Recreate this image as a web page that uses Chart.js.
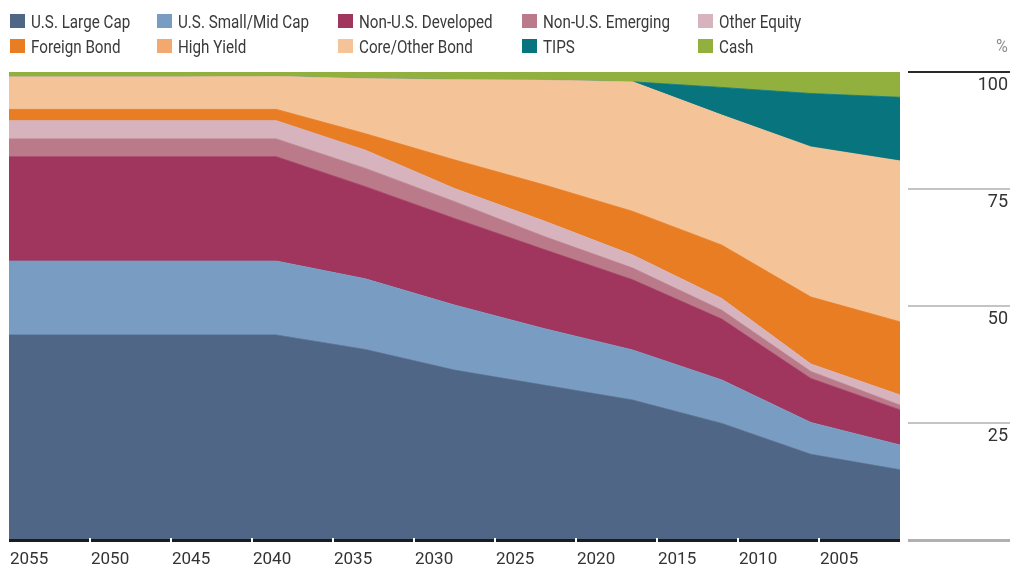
<!DOCTYPE html>
<html>
<head>
<meta charset="utf-8">
<script src="https://cdn.jsdelivr.net/npm/chart.js@4.4.1/dist/chart.umd.min.js"></script>
<style>
  body { margin: 0; background: #fff; }
  #wrap { position: relative; width: 1010px; height: 565px; }
  #chart { position: absolute; left: 0; top: 0; }
  .item { position: absolute; height: 20px; font: 19px Roboto, sans-serif; color: #3a3a3a; white-space: nowrap; }
  .sw { position: absolute; left: 0; top: 0; width: 15px; height: 14px; }
  .lbl { position: absolute; left: 21px; top: -4px; transform: scaleX(0.8); transform-origin: left center; }
  #pct { position: absolute; right: 2px; top: 34px; font: 19px Roboto, sans-serif; color: #8a8a8a; transform: scaleX(0.85); transform-origin: right center; }
</style>
</head>
<body>
<div id="wrap">
  <canvas id="chart" width="1010" height="565"></canvas>
  <div id="legend"></div>
  <div id="pct">%</div>
</div>
<script>
// 年（横軸の点）
const years = [2055, 2049.5, 2044, 2038.5, 2033, 2027.5, 2022, 2016.5, 2011, 2005.5, 2000];
const xTicks = [2055, 2050, 2045, 2040, 2035, 2030, 2025, 2020, 2015, 2010, 2005];
const yTicks = [25, 50, 75, 100];

// 資産配分（%）
const largeCap   = [43.8, 43.8, 43.8, 43.8, 40.7, 36.3, 33.1, 29.9, 24.9, 18.3, 15.0];
const smallMid   = [15.8, 15.8, 15.8, 15.8, 15.1, 13.9, 12.1, 10.7,  9.3,  6.8,  5.3];
const developed  = [22.3, 22.3, 22.3, 22.3, 19.7, 18.5, 16.9, 15.0, 13.0,  9.4,  7.5];
const emerging   = [ 3.8,  3.8,  3.8,  3.8,  3.9,  3.6,  2.8,  2.5,  1.9,  1.5,  1.0];
const otherEq    = [ 3.9,  3.9,  3.9,  3.9,  3.9,  2.8,  3.3,  2.8,  2.5,  1.6,  2.2];
const foreignBd  = [ 2.4,  2.4,  2.4,  2.4,  3.5,  6.1,  7.7,  9.3, 11.4, 14.3, 15.6];
const highYield  = [ 0,    0,    0,    0,    0,    0,    0,    0,    0,    0,    0  ];
const coreBond   = [ 7.0,  7.0,  7.0,  7.1, 11.8, 17.2, 22.4, 27.7, 27.8, 32.1, 34.4];
const tips       = [ 0,    0,    0,    0,    0,    0,    0,    0,    5.9, 11.4, 13.6];
const cash       = [ 1.0,  1.0,  1.0,  0.9,  1.4,  1.6,  1.7,  2.1,  3.3,  4.6,  5.4];

const seriesNames = ["U.S. Large Cap", "U.S. Small/Mid Cap", "Non-U.S. Developed", "Non-U.S. Emerging", "Other Equity",
                     "Foreign Bond", "High Yield", "Core/Other Bond", "TIPS", "Cash"];
const seriesData = [largeCap, smallMid, developed, emerging, otherEq, foreignBd, highYield, coreBond, tips, cash];
const seriesColors = ["#506686", "#789cc2", "#a0365e", "#ba7a89", "#d6b3bd",
                      "#e87d24", "#f2a86e", "#f4c398", "#08757e", "#92b03e"];

// 凡例（HTML）
const legendCols = [10, 157, 338, 522, 698];
const legendRows = [14, 39];
const legendEl = document.getElementById("legend");
seriesNames.forEach((name, i) => {
  const item = document.createElement("div");
  item.className = "item";
  item.style.left = legendCols[i % 5] + "px";
  item.style.top = legendRows[Math.floor(i / 5)] + "px";
  const sw = document.createElement("span");
  sw.className = "sw";
  sw.style.background = seriesColors[i];
  const lbl = document.createElement("span");
  lbl.className = "lbl";
  lbl.textContent = name;
  item.appendChild(sw);
  item.appendChild(lbl);
  legendEl.appendChild(item);
});

/* ===== 軸まわりの装飾 ===== */
const axisDecor = {
  id: "axisDecor",
  afterDraw(chart) {
    const { ctx, chartArea, scales: { x, y } } = chart;
    ctx.save();
    // 下の黒い線
    ctx.fillStyle = "#1c1c1c";
    ctx.fillRect(chartArea.left, chartArea.bottom - 1, chartArea.right - chartArea.left, 3);
    // 目盛りの切れ目
    ctx.fillStyle = "#fff";
    xTicks.forEach(v => {
      const px = x.getPixelForValue(v);
      if (px > chartArea.left + 2) ctx.fillRect(px - 1, chartArea.bottom - 2, 2, 5);
    });
    // 右側の目盛り線
    [0, ...yTicks].forEach(v => {
      const py = Math.round(y.getPixelForValue(v));
      ctx.fillStyle = v === 100 ? "#2a2a2a" : (v === 0 ? "#b0b0b0" : "#c4c4c4");
      const h = v === 0 ? 3 : 2;
      ctx.fillRect(chartArea.right + 8, py - 1, chart.width - chartArea.right - 8, h);
    });
    ctx.restore();
  }
};

const datasets = seriesNames.map((name, i) => ({
  label: name,
  data: years.map((yr, j) => ({ x: yr, y: seriesData[i][j] })),
  backgroundColor: seriesColors[i],
  borderColor: seriesColors[i],
  borderWidth: 0.8,
  pointRadius: 0,
  tension: 0,
  fill: i === 0 ? "origin" : "-1"
}));

new Chart(document.getElementById("chart"), {
  type: "line",
  data: { datasets },
  options: {
    responsive: false,
    animation: false,
    layout: { padding: { left: 9, top: 72, right: 2, bottom: 0 } },
    plugins: { legend: { display: false }, tooltip: { enabled: false } },
    elements: { line: { borderJoinStyle: "miter" } },
    scales: {
      x: {
        type: "linear",
        min: 2000, max: 2055, reverse: true,
        grid: { display: false },
        border: { display: false },
        afterBuildTicks: s => { s.ticks = xTicks.map(v => ({ value: v })); },
        afterFit: s => { s.height = 25; s.paddingLeft = 0; s.paddingRight = 0; },
        ticks: {
          align: "start", labelOffset: 1, padding: 2, maxRotation: 0, autoSkip: false,
          color: "#333", font: { family: "Roboto", size: 17 },
          callback: v => String(v)
        }
      },
      y: {
        position: "right",
        stacked: true,
        min: 0, max: 100,
        grid: { display: false },
        border: { display: false },
        afterBuildTicks: s => { s.ticks = yTicks.map(v => ({ value: v })); },
        afterFit: s => { s.width = 108; s.paddingTop = 0; s.paddingBottom = 0; },
        ticks: {
          crossAlign: "far", labelOffset: 13,
          color: "#333", font: { family: "Roboto", size: 18 },
          callback: v => String(v)
        }
      }
    }
  },
  plugins: [axisDecor]
});
</script>
</body>
</html>
